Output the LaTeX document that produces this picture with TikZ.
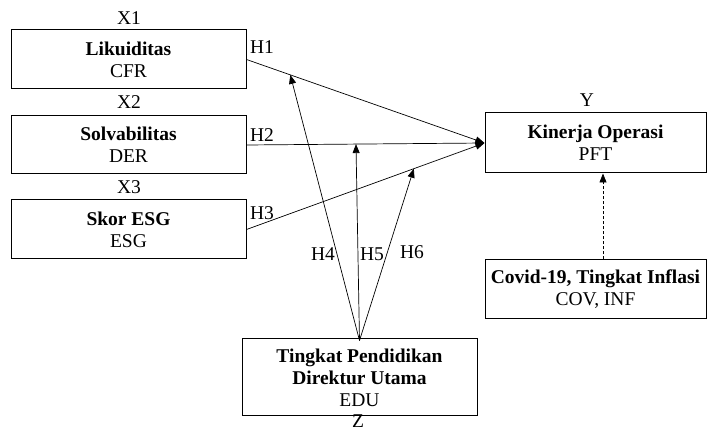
\documentclass[tikz,border=0pt]{standalone}
\usepackage{fontspec}
\setmainfont{Liberation Serif}
\usetikzlibrary{arrows.meta}
\begin{document}
\begin{tikzpicture}[x=1pt,y=-1pt,
  box/.style={draw,line width=1pt,align=center,inner sep=0pt,font=\fontsize{19.5}{22}\selectfont},
  lbl/.style={inner sep=0pt,font=\fontsize{19.5}{22}\selectfont},
  conn/.style={line width=0.7pt,-{Triangle[length=9pt,width=7pt]}}]
\useasboundingbox (0,0) rectangle (710,430);
\node[box,minimum width=235pt,minimum height=59pt] (b1) at (128.5,59.5) {\textbf{Likuiditas}\\CFR};
\node[box,minimum width=235pt,minimum height=58pt] (b2) at (128.5,145) {\textbf{Solvabilitas}\\DER};
\node[box,minimum width=235pt,minimum height=59pt] (b3) at (128.5,229.5) {\textbf{Skor ESG}\\ESG};
\node[box,minimum width=221pt,minimum height=60pt] (y) at (595.5,143) {\textbf{Kinerja Operasi}\\PFT};
\node[box,minimum width=221pt,minimum height=59pt] (cov) at (595.5,289.5) {\textbf{Covid-19, Tingkat Inflasi}\\COV, INF};
\node[box,minimum width=235pt,minimum height=77pt] (edu) at (359.5,377.5) {\textbf{Tingkat Pendidikan}\\\textbf{Direktur Utama}\\EDU};
\node[lbl] (x1) at (129,18) {X1};
\node[lbl] (x2) at (129,102) {X2};
\node[lbl] (x3) at (129,187) {X3};
\node[lbl] (ly) at (587,100) {Y};
\node[lbl] (lz) at (358,421) {Z};
\node[lbl] (h1) at (262,47) {H1};
\node[lbl] (h2) at (262,135) {H2};
\node[lbl] (h3) at (262,213) {H3};
\node[lbl] (h4) at (323,254) {H4};
\node[lbl] (h5) at (372,254) {H5};
\node[lbl] (h6) at (412,252) {H6};
\draw[conn] (b1.east) -- (y.west);
\draw[conn] (b2.east) -- (y.west);
\draw[conn] (b3.east) -- (y.west);
\path (b1.east) -- (y.west) coordinate[pos=0.184] (m1);
\path (b2.east) -- (y.west) coordinate[pos=0.46] (m2);
\path (b3.east) -- (y.west) coordinate[pos=0.703] (m3);
\coordinate (src) at ([yshift=-2pt]edu.north);
\draw[conn] (src) -- (m1);
\draw[conn] (src) -- (m2);
\draw[conn] (src) -- (m3);
\draw[conn,dash pattern=on 3pt off 2pt] ([xshift=7.5pt]cov.north) -- ([xshift=7.5pt]y.south);
\end{tikzpicture}
\end{document}
